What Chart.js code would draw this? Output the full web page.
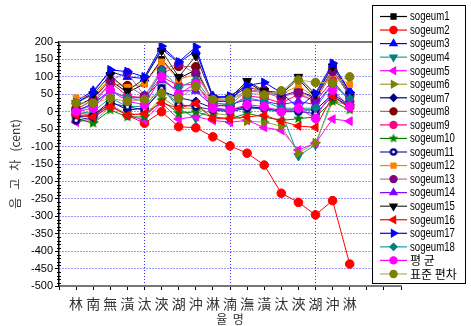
<!DOCTYPE html>
<html><head><meta charset="utf-8">
<script src="https://cdn.jsdelivr.net/npm/chart.js@4/dist/chart.umd.min.js"></script>
<style>html,body{margin:0;padding:0;background:#fff}canvas{display:block}</style>
</head><body>
<canvas id="c" width="471" height="326"></canvas>
<script>
// ---- data ----
const categories = ['林','南','無','潢','汰','浹','湖','沖','淋','湳','潕','潢','汰','浹','湖','沖','淋'];
const xPositions = [1,2,3,4,5,6,7,8,9,10,11,12,13,14,15,16,17];
const seriesNames = ['sogeum1','sogeum2','sogeum3','sogeum4','sogeum5','sogeum6','sogeum7','sogeum8','sogeum9','sogeum10','sogeum11','sogeum12','sogeum13','sogeum14','sogeum15','sogeum16','sogeum17','sogeum18','평 균','표준 편차'];
const yTicks = [-500,-450,-400,-350,-300,-250,-200,-150,-100,-50,0,50,100,150,200];

const sogeum1  = [15, 40, 90, 55, 80, 150, 95, 120, 30, 30, 85, 55, 50, 95, 40, 120, 45];
const sogeum2  = [-5, -8, 20, -10, -33, 0, -43, -46, -72, -98, -119, -153, -234, -260, -296, -255, -437];
const sogeum3  = [30, 60, 115, 100, 95, 180, 140, 175, 45, 40, 70, 60, 45, 60, 40, 135, 60];
const sogeum4  = [-5, 0, 40, 15, 15, 70, 10, -19, 10, 0, 15, 5, 0, -127, -95, 40, 20];
const sogeum5  = [-30, -20, 20, -10, -24, 25, -21, -14, -25, -30, -25, -45, -53, -110, -90, -21, -27];
const sogeum6  = [-10, -30, 15, -5, -10, 40, 10, 10, -5, -10, -27, -30, -41, -119, -89, 29, 20];
const sogeum7  = [-15, -10, 30, 5, 10, 60, 40, 30, 10, 5, 15, 10, 5, 5, 5, 50, 20];
const sogeum8  = [10, 30, 80, 75, 45, 110, 130, 129, 25, 20, 60, 55, 40, 60, 35, 120, 45];
const sogeum9  = [5, 20, 85, 45, 40, 100, 75, 80, 20, 15, 45, 40, 25, 50, 30, 90, 30];
const sogeum10 = [-20, -33, 5, -15, -15, 33, -5, 0, -15, -20, -5, -15, -25, -20, -15, 30, 5];
const sogeum11 = [-25, -15, 25, 14, 5, 67, 20, 15, 5, 0, 10, 10, 0, 0, -5, 45, 15];
const sogeum12 = [40, 45, 95, 70, 80, 143, 93, 107, 35, 45, 75, 55, 50, 75, 40, 110, 78];
const sogeum13 = [5, 35, 90, 112, 45, 120, 137, 110, 30, 35, 60, 62, 45, 54, 30, 115, 50];
const sogeum14 = [0, 25, 60, 40, 40, 90, 60, 60, 15, 20, 35, 30, 20, 30, 20, 80, 35];
const sogeum15 = [25, 50, 105, 60, 95, 175, 100, 160, 40, 40, 88, 60, 55, 100, 50, 130, 50];
const sogeum16 = [-10, -15, 15, -10, -5, 25, 10, 24, -20, -20, -15, -10, -27, -41, -45, 45, 10];
const sogeum17 = [25, 55, 120, 115, 100, 188, 143, 186, 40, 45, 75, 84, 55, 10, 53, 139, 55];
const sogeum18 = [0, 20, 60, 40, 30, 119, 70, 91, 25, 20, 40, 30, 10, 10, 10, 80, 38];
const average  = [0, 10, 62, 30, 20, 100, 50, 81, 10, 5, 20, 15, 0, 10, -19, 62, 14];
const stdDev   = [25, 25, 38, 30, 35, 53, 38, 72, 35, 35, 54, 48, 60, 91, 84, 83, 100];

const allSeries = [sogeum1,sogeum2,sogeum3,sogeum4,sogeum5,sogeum6,sogeum7,sogeum8,sogeum9,sogeum10,
  sogeum11,sogeum12,sogeum13,sogeum14,sogeum15,sogeum16,sogeum17,sogeum18,average,stdDev];

// ---- styles ----
function makeStar(color, r){
  const s = Math.ceil(r*2+2), c = document.createElement('canvas');
  c.width = c.height = s; const g = c.getContext('2d');
  g.fillStyle = color; g.beginPath();
  for (let k=0;k<10;k++){ const rr = k%2 ? r*0.45 : r; const a = -Math.PI/2 + k*Math.PI/5;
    g.lineTo(s/2+rr*Math.cos(a), s/2+rr*Math.sin(a)); }
  g.closePath(); g.fill(); return c;
}
function makeDot(color, r, inner){
  const s = Math.ceil(r*2+2), c = document.createElement('canvas');
  c.width = c.height = s; const g = c.getContext('2d');
  g.fillStyle = color; g.beginPath(); g.arc(s/2, s/2, r, 0, Math.PI*2); g.fill();
  g.fillStyle = '#fff'; g.beginPath(); g.arc(s/2, s/2, inner, 0, Math.PI*2); g.fill();
  return c;
}
const starPlot = makeStar('#008000', 5.5);
const starLeg = makeStar('#008000', 5);
const dotPlot = makeDot('#000080', 4.3, 1.6);
const dotLeg = makeDot('#000080', 3.8, 1.4);

const styles = [
  {line:'#000000', mk:'#000000', ps:'rect', rot:0},
  {line:'#ff0000', mk:'#ff0000', ps:'circle', rot:0},
  {line:'#0000ff', mk:'#0000ff', ps:'triangle', rot:0},
  {line:'#10a0a0', mk:'#008080', ps:'triangle', rot:180},
  {line:'#ff00ff', mk:'#ff00ff', ps:'triangle', rot:270},
  {line:'#a0a040', mk:'#808000', ps:'triangle', rot:90},
  {line:'#000080', mk:'#000080', ps:'rectRot', rot:0},
  {line:'#b06060', mk:'#800000', ps:'circle', rot:0},
  {line:'#ff0080', mk:'#ff0080', ps:'circle', rot:0},
  {line:'#008000', mk:'#008000', ps:'star', rot:0},
  {line:'#2020b0', mk:'#000080', ps:'ring', rot:0},
  {line:'#ff8000', mk:'#ff8000', ps:'rect', rot:0},
  {line:'#b070b0', mk:'#800080', ps:'circle', rot:0},
  {line:'#8000ff', mk:'#8000ff', ps:'triangle', rot:0},
  {line:'#303030', mk:'#000000', ps:'triangle', rot:180},
  {line:'#ff0000', mk:'#ff0000', ps:'triangle', rot:270},
  {line:'#0000ff', mk:'#0000ff', ps:'triangle', rot:90},
  {line:'#10a0a0', mk:'#008080', ps:'rectRot', rot:0},
  {line:'#ff00ff', mk:'#ff00ff', ps:'circle', rot:0},
  {line:'#b0b060', mk:'#808000', ps:'circle', rot:0}
];

const datasets = allSeries.map((arr, i) => {
  const st = styles[i];
  const isRing = st.ps === 'ring', isStar = st.ps === 'star';
  const isTri = st.ps === 'triangle';
  return {
    label: seriesNames[i],
    data: arr.map((v, k) => ({x: xPositions[k], y: v})),
    borderColor: st.line,
    borderWidth: 1,
    pointStyle: isStar ? starPlot : (isRing ? dotPlot : st.ps),
    rotation: st.rot,
    pointRadius: isTri ? 5 : (st.ps==='rect' ? 4 : 4.3),
    pointBackgroundColor: st.mk,
    pointBorderColor: st.mk,
    pointBorderWidth: 1,
    order: -i,
    tension: 0,
    fill: false
  };
});

// ---- plugins ----
const decor = {
  id: 'decor',
  afterDraw(chart) {
    const ctx = chart.ctx, ca = chart.chartArea, ys = chart.scales.y;
    ctx.save();
    // top frame line
    ctx.strokeStyle = '#777'; ctx.lineWidth = 2;
    ctx.beginPath(); ctx.moveTo(ca.left, ca.top); ctx.lineTo(ca.right, ca.top); ctx.stroke();
    // minor y ticks
    ctx.strokeStyle = '#000'; ctx.lineWidth = 1;
    for (let v = ys.min; v <= ys.max; v += 10) {
      if (v % 50 === 0) continue;
      const y = Math.round(ys.getPixelForValue(v)) + 0.5;
      ctx.beginPath(); ctx.moveTo(ca.left - 2, y); ctx.lineTo(ca.left + 2, y); ctx.stroke();
    }
    // legend
    const lx = 372, ly = 5, lw = 93, lh = 278, rowH = 13.55, firstY = 16;
    ctx.fillStyle = '#fff'; ctx.fillRect(lx, ly, lw, lh);
    ctx.strokeStyle = '#000'; ctx.lineWidth = 1;
    ctx.strokeRect(lx + 0.5, ly + 0.5, lw, lh);
    chart.data.datasets.forEach((ds, i) => {
      const st = styles[i];
      const y = firstY + i * rowH;
      ctx.strokeStyle = ds.borderColor; ctx.lineWidth = 1.2;
      ctx.beginPath(); ctx.moveTo(380, y + 0.5); ctx.lineTo(407, y + 0.5); ctx.stroke();
      ctx.fillStyle = ds.pointBackgroundColor; ctx.strokeStyle = ds.pointBorderColor;
      const opts = {pointStyle: st.ps === 'star' ? starLeg : (st.ps === 'ring' ? dotLeg : st.ps),
        rotation: st.rot, radius: st.ps === 'triangle' ? 4.2 : 3.6, borderWidth: 1};
      Chart.helpers.drawPoint(ctx, opts, 393.5, y + 0.5);
      ctx.fillStyle = '#000';
      ctx.textBaseline = 'middle'; ctx.textAlign = 'left';
      if (i >= 18) {
        ctx.font = '12px "Noto Sans CJK KR"';
        ctx.fillText(ds.label, 410, y + 1);
      } else {
        ctx.font = '12px Arial, "Liberation Sans"';
        const w = ctx.measureText(ds.label).width;
        ctx.fillText(ds.label, 410, y + 1, w * 0.8);
      }
    });
    ctx.restore();
  }
};

new Chart(document.getElementById('c'), {
  type: 'line',
  data: { datasets },
  options: {
    responsive: false,
    animation: false,
    devicePixelRatio: 1,
    layout: { padding: { left: 0, right: 70, top: 42, bottom: 0 } },
    plugins: { legend: { display: false }, tooltip: { enabled: false } },
    scales: {
      x: {
        type: 'linear', min: 0, max: 20, position: 'bottom',
        afterFit: s => { s.height = 40; },
        ticks: {
          stepSize: 1, autoSkip: false, maxRotation: 0, minRotation: 0, padding: 5,
          color: '#333', font: { family: '"Noto Sans CJK TC"', size: 14 },
          callback: v => (v >= 1 && v <= categories.length) ? categories[v - 1] : ''
        },
        grid: {
          color: c => (c.tick && c.tick.value % 5 === 0 && c.tick.value > 0 && c.tick.value < 20) ? '#3030ff' : 'rgba(0,0,0,0)',
          lineWidth: 1, tickColor: '#000', tickLength: 4, drawTicks: true
        },
        border: { color: '#777', width: 2, dash: [1, 2] },
        title: { display: true, text: '율  명', color: '#333', font: { family: '"Noto Sans CJK KR"', size: 12 }, padding: { top: 0, bottom: -1 } }
      },
      y: {
        min: -500, max: 200,
        afterFit: s => { s.width = 59; },
        afterBuildTicks: s => { s.ticks = yTicks.map(v => ({ value: v })); },
        ticks: { stepSize: 50, padding: 2, color: '#000', font: { family: 'Arial, "Liberation Sans"', size: 11 } },
        grid: {
          color: c => (c.tick && (c.tick.value === 200 || c.tick.value === -500)) ? 'rgba(0,0,0,0)' : '#3030ff',
          lineWidth: 1, tickColor: '#000', tickLength: 4
        },
        border: { color: '#000', width: 1.5, dash: [1, 2] },
        title: { display: true, text: '음   고   차   (cent)', color: '#333', font: { family: '"Noto Sans CJK KR"', size: 12 }, padding: { top: 8, bottom: 0 } }
      }
    }
  },
  plugins: [decor]
});
</script>
</body></html>
